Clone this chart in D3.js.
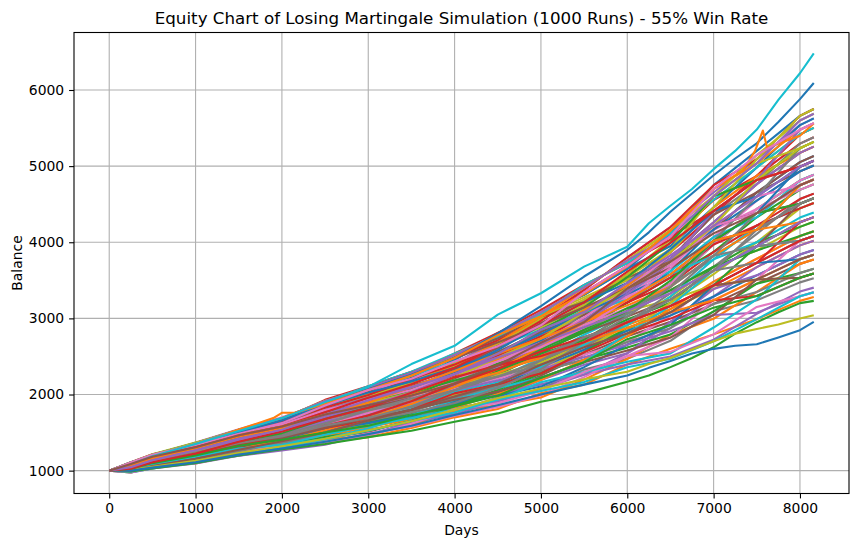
<!DOCTYPE html>
<html>
<head>
<meta charset="utf-8">
<script src="https://cdn.jsdelivr.net/npm/d3@7.9.0/dist/d3.min.js"></script>
<style>
  html, body { margin: 0; padding: 0; background: #fff; }
  svg { display: block; font-family: "DejaVu Sans", sans-serif; }
</style>
</head>
<body>
<svg id="chart" width="859" height="547"></svg>
<script>
// day grid shared by the runs inside the main band
const days = [0, 250, 500, 1000, 1500, 2000, 2500, 3000, 3500, 4000, 4500,
  5000, 5500, 6000, 6500, 7000, 7500, 8000, 8160];

// balance of each run (a sample of the 1000 runs)
const runs = [
  [1000,1043,1141,1288,1440,1613,1812,2043,2226,2498,2810,3053,3309,3652,4117,4750,5200,5660,5750],
  [1000,1016,1067,1150,1230,1309,1370,1440,1560,1700,1810,2018,2130,2394,2600,2790,2990,3230,3280],
  [1000,1083,1160,1260,1370,1483,1576,1708,1782,1952,2160,2420,2720,3060,3453,3970,4437,4810,4886],
  [1000,989,1067,1178,1335,1483,1665,1842,2004,2246,2510,2823,3178,3578,3868,4360,4873,5417,5503],
  [1000,1056,1123,1233,1405,1526,1753,1943,2152,2414,2710,2995,3375,3800,4200,4653,5091,5539,5627],
  [1000,1002,1086,1178,1265,1352,1429,1507,1671,1868,2010,2248,2523,2764,2955,3190,3456,3716,3774],
  [1000,1097,1197,1370,1545,1700,1901,2043,2189,2372,2560,2765,3047,3282,3536,4068,4546,4931,5009],
  [1000,1029,1104,1178,1300,1418,1517,1608,1708,1826,1910,2075,2327,2468,2706,3093,3238,3473,3527],
  [1000,1070,1178,1315,1510,1657,1871,2010,2152,2372,2660,2880,3178,3578,4034,4555,4982,5417,5503],
  [1000,975,1030,1123,1248,1352,1488,1641,1819,2036,2210,2478,2785,3060,3453,3775,4219,4445,4515],
  [1000,1043,1104,1205,1335,1461,1635,1775,1967,2120,2310,2593,2916,3208,3619,4165,4655,5053,5133],
  [1000,1056,1160,1288,1458,1570,1724,1842,2004,2162,2310,2478,2654,2912,3121,3385,3674,3959,4021],
  [1000,1016,1086,1205,1335,1439,1547,1675,1856,2078,2310,2535,2851,3208,3536,3873,4328,4688,4762],
  [1000,1110,1215,1343,1475,1613,1842,2043,2263,2540,2810,3110,3440,3726,4034,4555,4873,5296,5380],
  [1000,1002,1049,1123,1195,1287,1399,1541,1634,1784,1960,2190,2392,2542,2872,3288,3674,3959,4021],
  [1000,1070,1141,1260,1405,1548,1753,1909,2078,2330,2610,2938,3244,3504,3785,4263,4764,5174,5256],
  [1000,1029,1123,1233,1370,1505,1694,1809,1930,2078,2210,2363,2523,2690,3038,3483,3783,4081,4145],
  [1000,1083,1178,1343,1493,1613,1783,1943,2078,2288,2460,2708,3047,3430,3785,4360,4764,5296,5380],
  [1000,989,1049,1150,1283,1396,1517,1608,1782,1994,2110,2305,2589,2912,3287,3678,3892,4202,4268],
  [1000,1097,1178,1315,1440,1548,1694,1876,2041,2288,2510,2823,3113,3356,3619,4068,4328,4810,4886],
  [1000,1043,1123,1260,1423,1570,1783,1976,2189,2456,2760,3053,3309,3652,3951,4458,4982,5539,5627],
  [1000,975,1049,1095,1213,1309,1399,1474,1597,1784,1860,1960,2196,2468,2789,2995,3347,3716,3774],
  [1000,1056,1141,1233,1353,1439,1606,1742,1893,2036,2260,2535,2720,2986,3204,3678,4001,4202,4268],
  [1000,1083,1197,1343,1528,1679,1930,2110,2300,2498,2710,2995,3375,3800,4200,4750,5091,5660,5750],
  [1000,1016,1104,1205,1318,1396,1458,1574,1745,1910,2010,2133,2261,2394,2500,2720,3060,3352,3404],
  [1000,1070,1160,1315,1475,1592,1812,1976,2115,2288,2410,2650,2982,3356,3702,4165,4655,5053,5133],
  [1000,1002,1067,1150,1300,1418,1576,1742,1893,2120,2360,2650,2982,3282,3702,4165,4437,4688,4762],
  [1000,1043,1141,1260,1388,1483,1635,1775,1930,2162,2410,2650,2851,3060,3370,3678,4110,4567,4639],
  [1000,1029,1086,1178,1318,1439,1606,1775,1930,2120,2260,2420,2654,2838,3204,3580,4001,4445,4515],
  [1000,1110,1197,1343,1510,1679,1901,2110,2300,2540,2760,3053,3440,3726,4117,4555,4982,5417,5503],
  [1000,989,1067,1123,1230,1331,1458,1574,1708,1910,2110,2363,2589,2838,3038,3288,3565,3838,3898],
  [1000,1056,1141,1288,1423,1526,1665,1809,2004,2246,2460,2765,3113,3430,3868,4458,4873,5174,5256],
  [1000,1016,1104,1233,1370,1461,1576,1641,1745,1868,2060,2305,2458,2616,2789,3093,3456,3595,3651],
  [1000,1083,1178,1288,1440,1570,1753,1876,2041,2204,2410,2708,2982,3208,3453,3873,4219,4567,4639],
  [1000,975,1030,1095,1195,1265,1340,1474,1634,1742,1910,2075,2261,2542,2955,3385,3565,3838,3898],
  [1000,1070,1178,1315,1493,1635,1812,1976,2152,2330,2560,2823,3047,3356,3785,4360,4655,4931,5009],
  [1000,1029,1104,1205,1353,1483,1665,1842,2041,2246,2410,2650,2916,3134,3453,3970,4437,4810,4886],
  [1000,1002,1067,1178,1300,1396,1547,1675,1782,1952,2110,2305,2458,2690,2872,3190,3347,3595,3651],
  [1000,1097,1215,1370,1510,1657,1871,1976,2152,2414,2660,2995,3244,3504,3868,4458,5091,5660,5750],
  [1000,1043,1123,1205,1335,1439,1606,1708,1856,2036,2160,2363,2654,2912,3287,3775,4001,4324,4392],
  [1000,1056,1123,1260,1405,1526,1694,1876,2078,2288,2510,2708,2982,3356,3785,4165,4546,4931,5009],
  [1000,989,1049,1137,1265,1374,1458,1574,1671,1826,2010,2190,2458,2764,3121,3483,3783,4081,4145],
  [1000,1016,1086,1178,1318,1439,1576,1742,1967,2204,2410,2593,2851,3134,3370,3678,3892,4081,4145],
  [1000,1070,1160,1288,1458,1592,1753,1943,2078,2246,2510,2765,2982,3208,3536,3970,4219,4445,4515],
  [1000,1056,1141,1274,1440,1570,1724,1842,1967,2120,2360,2650,2982,3356,3785,4263,4764,5174,5256],
  [1000,1107,1210,1363,1536,1667,1886,2093,2282,2519,2735,3024,3211,3541,3744,4214,4383,4506,4577],
  [1000,978,1035,1116,1239,1298,1355,1490,1579,1721,1835,1989,2228,2505,2748,3239,3511,4020,4083],
  [1000,1066,1155,1267,1396,1493,1620,1725,1838,1973,2135,2449,2687,3097,3412,4019,4601,5235,5318],
  [1000,1100,1192,1322,1484,1646,1827,1959,2097,2267,2435,2679,2883,3097,3246,3434,3511,3534,3589],
  [1000,1107,1210,1363,1536,1689,1915,2060,2245,2435,2635,2851,3080,3245,3578,3824,4165,4749,4824],
  [1000,1005,1072,1157,1291,1406,1532,1624,1727,1889,1985,2104,2359,2653,2914,3434,3729,3777,3836],
  [1000,1073,1164,1281,1414,1559,1768,1926,2134,2393,2685,3024,3407,3763,4159,4701,5037,5478,5565],
  [1000,992,1053,1143,1239,1319,1443,1524,1653,1847,2035,2276,2556,2875,3080,3434,3947,4263,4330],
  [1000,1100,1201,1349,1519,1646,1827,1993,2208,2393,2635,2966,3342,3689,4076,4409,4819,4992,5071],
  [1000,1046,1136,1239,1396,1493,1650,1758,1875,2057,2185,2334,2490,2653,2831,3044,3075,3291,3342],
  [1000,1080,1173,1294,1431,1537,1709,1825,1949,2141,2385,2564,2818,3023,3246,3629,3947,4506,4577],
  [1000,1019,1090,1184,1326,1450,1591,1758,1949,2183,2435,2679,3014,3393,3827,4214,4601,4749,4824],
  [1000,1059,1146,1253,1414,1537,1679,1792,1949,2099,2235,2391,2621,2949,3246,3629,3729,4020,4083],
  [1000,1093,1192,1349,1519,1689,1915,2093,2282,2519,2785,3024,3276,3541,3910,4604,5146,5599,5688],
  [1000,1019,1090,1171,1274,1341,1473,1591,1690,1805,1935,2161,2294,2431,2540,2880,3250,3777,3836],
  [1000,1086,1183,1308,1466,1624,1856,2026,2171,2351,2535,2794,3080,3319,3578,4019,4383,4992,5071],
  [1000,1026,1099,1198,1309,1385,1532,1691,1875,2099,2335,2621,2949,3171,3412,3824,4165,4263,4330],
  [1000,1093,1183,1322,1466,1602,1768,1892,2060,2309,2535,2851,3145,3541,3993,4604,4819,5235,5318],
  [1000,1032,1109,1226,1361,1450,1561,1658,1801,2015,2135,2276,2556,2801,2997,3239,3293,3534,3589],
  [1000,1066,1146,1281,1431,1580,1797,1959,2097,2309,2485,2736,2949,3319,3744,4409,4819,5478,5565],
  [1000,1107,1201,1336,1501,1667,1886,2093,2282,2477,2685,2909,3145,3393,3661,4019,4165,4506,4577],
  [1000,1005,1062,1129,1256,1319,1384,1457,1616,1805,1885,2046,2294,2505,2560,2790,3150,3291,3342],
  [1000,1032,1118,1226,1344,1472,1620,1792,1912,2057,2285,2506,2752,2949,3329,3824,4383,4749,4824],
  [1000,1107,1210,1363,1536,1689,1915,2060,2245,2519,2785,3081,3407,3763,4159,4604,5037,5235,5318],
  [1000,985,1044,1102,1221,1298,1414,1557,1727,1931,2085,2219,2425,2801,3163,3629,3947,4020,4083],
  [1000,1080,1173,1294,1449,1580,1738,1859,2023,2309,2585,2909,3211,3467,3910,4409,4601,4992,5071],
  [1000,1059,1155,1294,1449,1559,1738,1859,1986,2141,2285,2506,2687,2875,3080,3239,3511,3777,3836],
  [1000,1053,1127,1226,1379,1493,1679,1859,2023,2183,2335,2564,2818,3097,3495,4019,4383,4506,4577],
  [1000,1046,1118,1212,1344,1428,1591,1725,1912,2141,2335,2564,2752,2949,3163,3434,3729,4263,4330],
  [1000,1100,1201,1349,1536,1689,1915,2093,2282,2519,2785,3081,3407,3763,4076,4604,5037,5599,5688],
  [1000,1012,1081,1171,1309,1428,1561,1691,1801,1931,2035,2219,2425,2579,2748,3044,3511,3534,3589],
  [1000,1086,1192,1336,1484,1602,1797,1926,2060,2267,2435,2621,2883,3245,3661,4214,4383,4749,4824],
  [1000,999,1072,1143,1256,1363,1502,1658,1764,1889,2085,2334,2687,3023,3412,3824,3947,4020,4083],
  [1000,1053,1136,1253,1396,1537,1738,1892,2023,2225,2485,2736,3080,3393,3744,4214,4819,5235,5318],
  [1000,1012,1081,1184,1291,1341,1414,1524,1653,1763,1935,2046,2163,2357,2470,2700,2990,3291,3342],
  [1000,1073,1173,1322,1466,1580,1768,1959,2134,2351,2635,2909,3211,3615,3993,4409,4819,4992,5071],
  [1000,1066,1155,1267,1396,1515,1709,1859,2023,2267,2485,2679,2883,3097,3329,3629,3947,4263,4330],
  [1000,999,1062,1157,1274,1385,1502,1658,1801,1973,2135,2391,2621,2801,3080,3434,3511,3777,3836],
  [1000,1107,1210,1336,1484,1624,1856,2060,2208,2435,2635,2909,3342,3689,4076,4701,5146,5478,5565],
  [1000,1039,1118,1239,1361,1450,1591,1691,1838,2057,2235,2449,2752,2949,3246,3629,4165,4506,4577],
  [1000,1073,1164,1294,1466,1580,1738,1892,2097,2309,2535,2736,2949,3245,3578,4019,4165,4749,4824],
  [1000,1026,1099,1198,1326,1406,1502,1591,1727,1847,1985,2219,2425,2727,2914,3141,3293,3534,3589],
  [1000,1026,1109,1226,1379,1515,1679,1825,2023,2225,2385,2506,2687,2949,3163,3434,3729,4020,4083],
  [1000,1046,1136,1267,1414,1537,1738,1926,2097,2267,2535,2851,3080,3467,3827,4214,4601,4992,5071],
  [1000,1086,1183,1308,1466,1580,1738,1859,1986,2141,2385,2679,2949,3393,3744,4116,4383,4749,4824]
];

// runs that stand out from the band, on a finer grid near the end
const edgeDays = [0, 250, 500, 1000, 1500, 2000, 2500, 3000, 3500, 4000, 4500, 5000, 5500,
  6000, 6250, 6500, 6750, 7000, 7250, 7500, 7750, 8000, 8160];
const edgeRuns = [
  // high blue
  [1000,1070,1180,1340,1500,1660,1880,2070,2260,2480,2800,3160,3550,3900,4130,4400,4640,4880,5100,5300,5580,5880,6092],
  // low green
  [1000,990,1030,1100,1200,1280,1350,1440,1524,1642,1752,1905,2015,2167,2250,2360,2480,2620,2800,2950,3080,3200,3230],
  // low olive
  [1000,1010,1050,1130,1230,1320,1420,1530,1650,1800,1950,2080,2200,2300,2400,2480,2590,2700,2800,2860,2920,2998,3041],
  // top cyan
  [1000,1080,1190,1350,1520,1690,1900,2100,2400,2640,3050,3330,3680,3940,4250,4480,4700,4960,5200,5480,5870,6220,6480],
  // lowest blue
  [1000,1000,1040,1110,1210,1290,1380,1480,1590,1730,1860,2000,2130,2250,2350,2440,2540,2600,2640,2660,2750,2845,2953]
];
const edgeSlots = [80, 82, 88, 89, 90];

// orange run with the sharp spike near day 7570
const spikeDays = [0, 250, 500, 1000, 1500, 1900, 2000, 2160, 2500, 3000, 3500, 4000,
  4500, 5000, 5500, 6000, 6500, 7000, 7336, 7480, 7570, 7620, 8000, 8160];
const spikeRun = [1000, 1060, 1170, 1330, 1540, 1690, 1760, 1760, 1880, 2060, 2250, 2480,
  2780, 3030, 3320, 3680, 4150, 4700, 4940, 5200, 5467, 5240, 5400, 5560];
const spikeSlot = 81;

const xTicks = [0, 1000, 2000, 3000, 4000, 5000, 6000, 7000, 8000];
const yTicks = [1000, 2000, 3000, 4000, 5000, 6000];
const palette = ['#1f77b4', '#ff7f0e', '#2ca02c', '#d62728', '#9467bd',
  '#8c564b', '#e377c2', '#7f7f7f', '#bcbd22', '#17becf'];

const W = 859, H = 547;
const plot = { left: 74, right: 849, top: 32.5, bottom: 493.5 };

const toPts = (ds, vs) => ds.map((d, i) => [d, vs[i]]);
const series = runs.map(r => toPts(days, r));
const inserts = edgeRuns.map((r, k) => [edgeSlots[k], toPts(edgeDays, r)]);
inserts.push([spikeSlot, toPts(spikeDays, spikeRun)]);
inserts.sort((a, b) => a[0] - b[0]).forEach(([slot, pts]) => series.splice(slot, 0, pts));

// matplotlib style 5% margins
const allPts = series.flat();
const [x0, x1] = d3.extent(allPts, d => d[0]);
const [y0, y1] = d3.extent(allPts, d => d[1]);
const xs = x1 - x0, ys = y1 - y0;

const x = d3.scaleLinear().domain([x0 - 0.05 * xs, x1 + 0.05 * xs]).range([plot.left, plot.right]);
const y = d3.scaleLinear().domain([y0 - 0.05 * ys, y1 + 0.05 * ys]).range([plot.bottom, plot.top]);

const svg = d3.select('#chart');
svg.append('rect').attr('width', W).attr('height', H).attr('fill', '#fff');

// grid
const grid = svg.append('g').attr('stroke', '#b0b0b0').attr('stroke-width', 1.1);
grid.selectAll('.gx').data(xTicks).join('line')
  .attr('x1', d => x(d)).attr('x2', d => x(d))
  .attr('y1', plot.top).attr('y2', plot.bottom);
grid.selectAll('.gy').data(yTicks).join('line')
  .attr('x1', plot.left).attr('x2', plot.right)
  .attr('y1', d => y(d)).attr('y2', d => y(d));

svg.append('clipPath').attr('id', 'clip').append('rect')
  .attr('x', plot.left).attr('y', plot.top)
  .attr('width', plot.right - plot.left).attr('height', plot.bottom - plot.top);

const line = d3.line().x(d => x(d[0])).y(d => y(d[1]));

svg.append('g').attr('clip-path', 'url(#clip)')
  .selectAll('path').data(series).join('path')
  .attr('d', line)
  .attr('fill', 'none')
  .attr('stroke', (d, i) => palette[i % 10])
  .attr('stroke-width', 2.1)
  .attr('stroke-linejoin', 'round');

// axes
const xAxis = d3.axisBottom(x).tickValues(xTicks).tickSize(4.9).tickPadding(4.9).tickFormat(d3.format('d'));
const yAxis = d3.axisLeft(y).tickValues(yTicks).tickSize(4.9).tickPadding(4.9).tickFormat(d3.format('d'));

const gx = svg.append('g').attr('transform', `translate(0,${plot.bottom})`).call(xAxis);
const gy = svg.append('g').attr('transform', `translate(${plot.left},0)`).call(yAxis);
[gx, gy].forEach(g => {
  g.select('.domain').remove();
  g.selectAll('line').attr('stroke', '#000').attr('stroke-width', 1.1);
  g.selectAll('text').attr('fill', '#000').style('font-size', '13.9px')
    .style('font-family', '"DejaVu Sans", sans-serif');
});

svg.append('rect')
  .attr('x', plot.left).attr('y', plot.top)
  .attr('width', plot.right - plot.left).attr('height', plot.bottom - plot.top)
  .attr('fill', 'none').attr('stroke', '#000').attr('stroke-width', 1.1);

svg.append('text')
  .attr('x', (plot.left + plot.right) / 2).attr('y', 24)
  .attr('text-anchor', 'middle').style('font-size', '16.7px')
  .text('Equity Chart of Losing Martingale Simulation (1000 Runs) - 55% Win Rate');

svg.append('text')
  .attr('x', (plot.left + plot.right) / 2).attr('y', 535)
  .attr('text-anchor', 'middle').style('font-size', '13.9px')
  .text('Days');

svg.append('text')
  .attr('transform', `translate(22,${(plot.top + plot.bottom) / 2}) rotate(-90)`)
  .attr('text-anchor', 'middle').style('font-size', '13.9px')
  .text('Balance');
</script>
</body>
</html>
